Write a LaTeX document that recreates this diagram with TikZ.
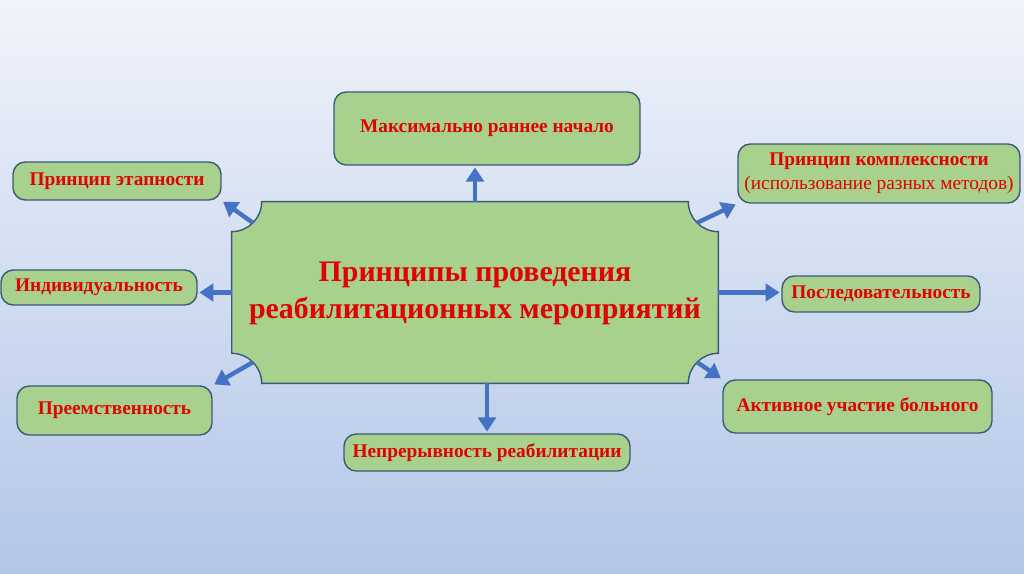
\documentclass[tikz,border=0pt]{standalone}
\usepackage{fontspec}
\setmainfont{Liberation Serif}
\usepackage{tikz}
\usetikzlibrary{positioning, arrows.meta, calc, backgrounds}
\definecolor{bgtop}{HTML}{F0F3FA}
\definecolor{bgbottom}{HTML}{B2C6E7}
\definecolor{leafgreen}{HTML}{A9D18E}
\definecolor{edgeslate}{HTML}{3B5A77}
\definecolor{arrowblue}{HTML}{4472C4}
\definecolor{titlered}{HTML}{E00000}
\tikzset{
  leafbox/.style={
    draw=edgeslate, fill=leafgreen, text=titlered,
    rounded corners=7pt, inner sep=0pt,
    align=center, font=\fontsize{11}{13.5}\selectfont\bfseries, line width=0.8pt
  },
  corebox/.style={
    draw=none, inner sep=0pt, minimum width=9.72cm, minimum height=3.62cm,
    align=center, text=titlered, font=\fontsize{17}{21.5}\selectfont\bfseries
  },
  spoke/.style={-{Triangle[length=8pt,width=10pt]}, line width=2.5pt, draw=arrowblue, shorten >=1pt}
}

\begin{document}
\begin{tikzpicture}[x=0.02cm, y=0.02cm]
  \useasboundingbox (0,0) rectangle (1024,574);
  \node[corebox] (core) at (475,281.5) {\raisebox{-6pt}{\begin{tabular}{@{}c@{}}Принципы проведения\\реабилитационных мероприятий\end{tabular}}};
  \node[leafbox, minimum width=6.12cm, minimum height=1.46cm] (maks) at (487,445.5) {Максимально раннее начало};
  \node[leafbox, minimum width=4.16cm, minimum height=0.76cm] (etap) at (117,393) {Принцип этапности};
  \node[leafbox, minimum width=5.64cm, minimum height=1.18cm] (kompl) at (879,400.5)
    {Принцип комплексности\\{\mdseries (использование разных методов)}};
  \node[leafbox, minimum width=3.92cm, minimum height=0.70cm] (indiv) at (99,286.5) {Индивидуальность};
  \node[leafbox, minimum width=3.96cm, minimum height=0.72cm] (posl) at (881,280) {Последовательность};
  \node[leafbox, minimum width=3.90cm, minimum height=0.98cm] (preem) at (114.5,163.5) {Преемственность};
  \node[leafbox, minimum width=5.38cm, minimum height=1.06cm] (aktiv) at (857.5,167.5) {Активное участие больного};
  \node[leafbox, minimum width=5.72cm, minimum height=0.74cm] (nepr) at (487,121.5) {Непрерывность реабилитации};

  \begin{scope}[on background layer]
    \fill[top color=bgtop, bottom color=bgbottom] (0,0) rectangle (1024,574);
    \draw[draw=edgeslate, fill=leafgreen, line width=0.8pt]
      ($(core.north west)+(30,0)$) -- ($(core.north east)+(-30,0)$)
      arc[start angle=180, end angle=270, radius=0.6cm]
      -- ($(core.south east)+(0,30)$)
      arc[start angle=90, end angle=180, radius=0.6cm]
      -- ($(core.south west)+(30,0)$)
      arc[start angle=0, end angle=90, radius=0.6cm]
      -- ($(core.north west)+(0,-30)$)
      arc[start angle=270, end angle=360, radius=0.6cm] -- cycle;
  \end{scope}

  \coordinate (ulbend) at ($(core.north west)+(21,-21)$);
  \coordinate (urbend) at ($(core.north east)+(-21,-21)$);
  \coordinate (llbend) at ($(core.south west)+(21,21)$);
  \coordinate (lrbend) at ($(core.south east)+(-21,21)$);

  \draw[spoke] (core.north) -- (core.north |- maks.south);
  \draw[spoke] (core.south -| nepr.north) -- (nepr.north);
  \draw[spoke] (core.west) -- (core.west -| indiv.east);
  \draw[spoke] (core.east) -- (core.east -| posl.west);
  \draw[spoke] (ulbend) -- (etap.south east);
  \draw[spoke] (urbend) -- (kompl.south west);
  \draw[spoke] (llbend) -- (preem.north east);
  \draw[spoke] (lrbend) -- (aktiv.north west);
\end{tikzpicture}
\end{document}
